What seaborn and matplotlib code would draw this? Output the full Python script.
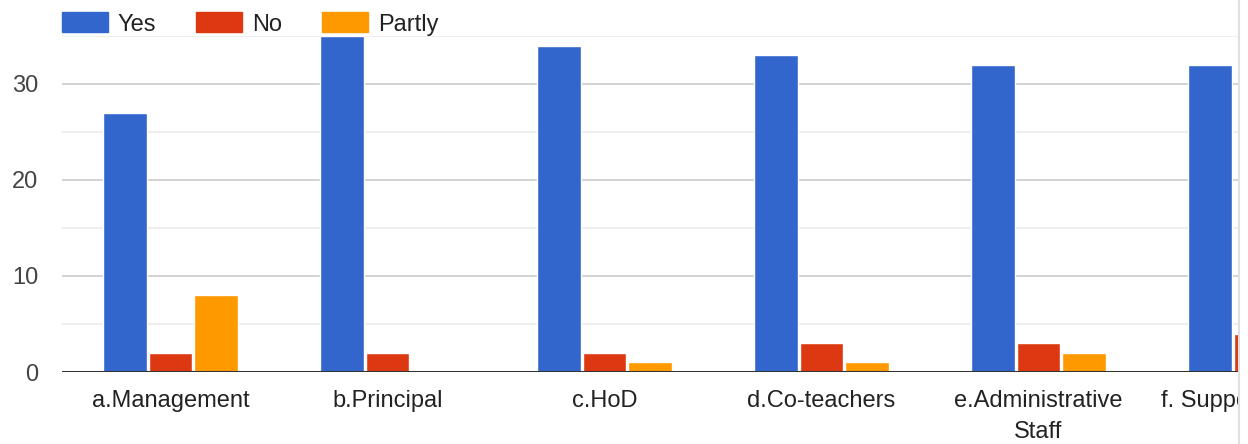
import pandas as pd
import matplotlib.pyplot as plt
import seaborn as sns
from matplotlib.patches import Rectangle
from matplotlib.lines import Line2D

# -----------------------------
# data
# -----------------------------
categories = ["a.Management", "b.Principal", "c.HoD", "d.Co-teachers",
              "e.Administrative\nStaff", "f. Supporting Staff"]
yes_vals    = [27, 35, 34, 33, 32, 32]
no_vals     = [2, 2, 2, 3, 3, 4]
partly_vals = [8, 0, 1, 1, 2, 0]

series = ["Yes", "No", "Partly"]
colors = ["#3366cc", "#dc3912", "#ff9900"]

rows = []
for cat, y, n, p in zip(categories, yes_vals, no_vals, partly_vals):
    rows.append({"category": cat, "response": "Yes", "count": y})
    rows.append({"category": cat, "response": "No", "count": n})
    rows.append({"category": cat, "response": "Partly", "count": p})
df = pd.DataFrame(rows)

# -----------------------------
# figure
# -----------------------------
sns.set_theme(style="white")
plt.rcParams["font.family"] = ["Liberation Sans", "DejaVu Sans"]

W, H = 1248, 444
FS = 17
fig = plt.figure(figsize=(W / 100, H / 100), dpi=100)

# plot area: left 62px, baseline 372px, top 36px; one category = 217px
left_px, base_px, top_px, step_px = 62, 372, 36, 217
width_px = step_px * len(categories)
ax = fig.add_axes([left_px / W, (H - base_px) / H,
                   width_px / W, (base_px - top_px) / H])

sns.barplot(data=df, x="category", y="count", hue="response",
            hue_order=series, palette=colors, width=0.63, gap=0.045,
            saturation=1, ax=ax, legend=False)

ax.set_xlim(-0.5, len(categories) - 0.5)
ax.set_ylim(0, 35)
ax.set_yticks([0, 10, 20, 30])
ax.set_yticks([5, 15, 25, 35], minor=True)
ax.grid(axis="y", which="major", color="#cccccc", lw=1.2)
ax.grid(axis="y", which="minor", color="#ebebeb", lw=1.2)
ax.set_axisbelow(True)
ax.axhline(0, color="#333333", lw=2.2, zorder=5)
for s in ax.spines.values():
    s.set_visible(False)
ax.set_xlabel("")
ax.set_ylabel("")
ax.tick_params(axis="x", length=0, pad=13, labelsize=FS, labelcolor="#222222")
ax.tick_params(axis="y", which="both", length=0, pad=17, labelsize=FS,
               labelcolor="#444444")
for lab in ax.get_xticklabels():
    lab.set_linespacing(1.5)

# legend
handles = [Rectangle((0, 0), 1, 1, color=c) for c in colors]
fig.legend(handles, series, loc="center left",
           bbox_to_anchor=(57 / W, 1 - 24 / H), ncol=3, frameon=False,
           fontsize=FS, handlelength=1.95, handleheight=0.93,
           handletextpad=0.42, columnspacing=1.7, labelcolor="#222222",
           borderaxespad=0, borderpad=0.2)

# chart is cut off at the right
fig.add_artist(Rectangle((1238 / W, 0), 10 / W, 1, transform=fig.transFigure,
                         facecolor="white", edgecolor="none", zorder=20))
fig.add_artist(Line2D([1239 / W, 1239 / W], [0, 1], transform=fig.transFigure,
                      color="#e0e0e0", lw=1.5, zorder=21))

fig.savefig("out.png", dpi=100)
